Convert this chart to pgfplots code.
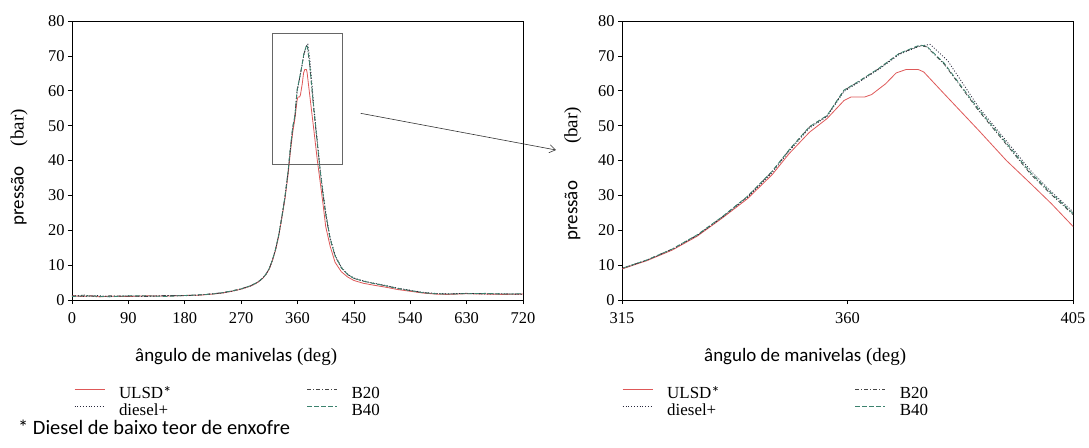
\documentclass[border=0pt]{standalone}
\usepackage{fontspec}
\setmainfont{Liberation Serif}
\newfontfamily\sansf{Carlito}
\usepackage{pgfplots}
\pgfplotsset{compat=1.18}
\usepackage{pgfplotstable}
\usetikzlibrary{arrows.meta}

\definecolor{cUlsd}{RGB}{222,88,88}
\definecolor{cBvinte}{RGB}{70,70,70}
\definecolor{cDiesel}{RGB}{40,40,60}
\definecolor{cBquar}{RGB}{60,130,110}

% pressao x angulo de manivela
\pgfplotstableread{
x y
0 1.3
15 1.0
30 1.2
45 0.9
60 1.1
90 1.0
120 1.2
150 1.1
180 1.3
205 1.4
225 1.7
240 2.0
255 2.5
270 3.1
285 4.0
295 4.9
300 5.5
305 6.3
310 7.4
315 8.9
320 11.3
325 14.3
330 18.3
335 23.5
340 29.0
345 36.0
348.3 41.9
352.4 48.1
355.9 52.0
359.3 57.2
360.7 58.2
363.4 58.2
364.8 58.9
367.6 62.0
369.7 65.1
371.7 66.1
374.1 66.1
375.2 65.4
379.3 59.1
386.2 48.6
391.7 40.0
396.6 33.3
400.7 27.6
405 21.1
412 15.5
420 10.8
430 8.1
440 6.6
450 5.6
465 4.8
480 4.3
500 3.7
520 3.0
540 2.5
560 2.0
580 1.7
600 1.6
630 1.8
660 1.7
690 1.6
720 1.7
}\tabUlsd

\pgfplotstableread{
x y
0 1.1
20 1.4
40 0.9
60 1.2
90 1.1
120 1.0
150 1.3
180 1.2
205 1.5
225 1.8
240 2.1
255 2.6
270 3.2
285 4.1
295 5.0
300 5.6
305 6.4
310 7.5
315 9.1
320 11.5
325 14.6
330 18.6
335 23.8
340 29.6
345 36.9
348.3 42.9
352.4 49.6
355.9 52.8
359.3 60.1
362.1 62.5
366.2 66.3
370.3 70.6
374.4 72.9
375.8 72.6
379.3 67.6
386.2 54.2
391.7 44.6
396.6 36.0
400.7 30.2
405 24.5
412 17.5
420 12.6
430 9.2
440 7.3
450 6.2
465 5.4
480 4.8
500 4.1
520 3.3
540 2.7
560 2.1
580 1.8
600 1.7
630 1.9
660 1.8
690 1.7
720 1.7
}\tabBvinte

\pgfplotstableread{
x y
0 1.2
20 1.0
40 1.3
60 1.0
90 1.2
120 1.1
150 1.2
180 1.3
205 1.4
225 1.8
240 2.0
255 2.5
270 3.1
285 4.0
295 4.9
300 5.6
305 6.4
310 7.5
315 9.0
320 11.4
325 14.5
330 18.5
335 23.7
340 29.4
345 36.6
348.3 42.6
352.4 49.3
355.9 52.6
359.3 59.8
362.1 62.3
366.2 66.1
370.3 70.4
374.4 72.8
376.5 73.3
380 68.6
386.2 55.2
391.7 45.6
396.6 37.0
400.7 31.0
405 25.3
412 18.0
420 12.9
430 9.4
440 7.4
450 6.3
465 5.5
480 4.9
500 4.2
520 3.4
540 2.8
560 2.2
580 1.9
600 1.8
630 1.9
660 1.7
690 1.8
720 1.6
}\tabDiesel

\pgfplotstableread{
x y
0 1.0
20 1.2
40 1.1
60 0.9
90 1.2
120 1.2
150 1.0
180 1.3
205 1.5
225 1.7
240 2.1
255 2.6
270 3.2
285 4.1
295 5.0
300 5.6
305 6.4
310 7.5
315 9.1
320 11.5
325 14.6
330 18.7
335 23.9
340 29.7
345 37.0
348.3 43.0
352.4 49.7
355.9 52.9
359.3 60.2
362.1 62.6
366.2 66.4
370.3 70.7
374.4 73.1
375.8 72.8
379.3 67.9
386.2 54.6
391.7 45.0
396.6 36.4
400.7 30.6
405 24.8
412 17.7
420 12.7
430 9.3
440 7.3
450 6.2
465 5.4
480 4.8
500 4.1
520 3.3
540 2.7
560 2.1
580 1.8
600 1.7
630 1.8
660 1.9
690 1.7
720 1.8
}\tabBquar

\pgfplotsset{
  motor/.style={
    scale only axis, height=279bp, width=451bp,
    ymin=0, ymax=80, ytick={0,10,...,80},
    tick align=outside, tick pos=left,
    major tick length=4bp,
    axis line style={black, line width=0.6bp},
    tick style={black, line width=0.6bp},
    ticklabel style={font=\fontsize{16.5}{18}\selectfont},
    xticklabel style={yshift=-5bp},
    /pgf/number format/assume math mode=true,
    label style={font=\fontsize{19}{21}\selectfont},
    legend columns=2,
    legend cell align=left,
    legend image code/.code={\draw[##1, line width=1bp] (0bp,6bp) -- (30bp,6bp);},
    legend style={draw=none, fill=none, anchor=north west, inner sep=0pt,
      font=\fontsize{17}{19}\selectfont,
      nodes={inner sep=0pt, text height=12bp, text depth=5bp},
      /tikz/every odd column/.append style={column sep=14bp},
      /tikz/every even column/.append style={column sep=135bp}},
  },
  sUlsd/.style={cUlsd, line width=0.8bp},
  sB20/.style={cBvinte, line width=0.8bp, dash pattern=on 4bp off 2bp on 1bp off 2bp},
  sDpl/.style={cDiesel, line width=0.8bp, dash pattern=on 1bp off 1.8bp},
  sB40/.style={cBquar, line width=0.8bp, dash pattern=on 4.5bp off 2.5bp},
}

\begin{document}
\begin{tikzpicture}
\path[use as bounding box] (0bp,0bp) rectangle (1089bp,448bp);
\coordinate (pL) at (72bp,148bp);
\coordinate (pR) at (622bp,148bp);

\begin{axis}[motor, at={(pL)}, anchor=south west,
  xmin=0, xmax=720, xtick={0,90,...,720},
  xlabel={{\sansf ângulo de manivelas} (deg)},
  xlabel style={at={(axis description cs:0.364,-0.204)}, anchor=center},
  ylabel={{\sansf pressão}\hspace{20bp}(bar)},
  ylabel style={at={(axis description cs:-0.1175,0.475)}, anchor=center},
  clip=false,
  legend style={at={(axis description cs:0.004,-0.31)}},
]
\addplot[sUlsd] table {\tabUlsd};
\addplot[sB20] table {\tabBvinte};
\addplot[sDpl] table {\tabDiesel};
\addplot[sB40] table {\tabBquar};
\legend{ULSD{\sansf *}, B20, diesel+, B40}
\draw[gray!80!black, line width=0.6bp] (axis cs:319,38.9) rectangle (axis cs:431,76.6);
\end{axis}

\begin{axis}[motor, at={(pR)}, anchor=south west,
  xmin=315, xmax=405, xtick={315,360,405},
  xlabel={{\sansf ângulo de manivelas} (deg)},
  xlabel style={at={(axis description cs:0.406,-0.204)}, anchor=center},
  ylabel={{\sansf pressão}\hspace{37bp}(bar)},
  ylabel style={at={(axis description cs:-0.109,0.452)}, anchor=center},
  legend style={at={(axis description cs:0.0,-0.31)}},
]
\addplot[sUlsd] table {\tabUlsd};
\addplot[sB20] table {\tabBvinte};
\addplot[sDpl] table {\tabDiesel};
\addplot[sB40] table {\tabBquar};
\legend{ULSD{\sansf *}, B20, diesel+, B40}
\end{axis}

\draw[black!80, line width=0.6bp, -{Straight Barb[length=6bp, width=8bp]}] (360.6bp,334.7bp) -- (556bp,298bp);

\node[anchor=base west, font=\sansf\fontsize{20.5}{22}\selectfont, inner sep=0pt] at (18bp,14bp) {* Diesel de baixo teor de enxofre};
\end{tikzpicture}
\end{document}
